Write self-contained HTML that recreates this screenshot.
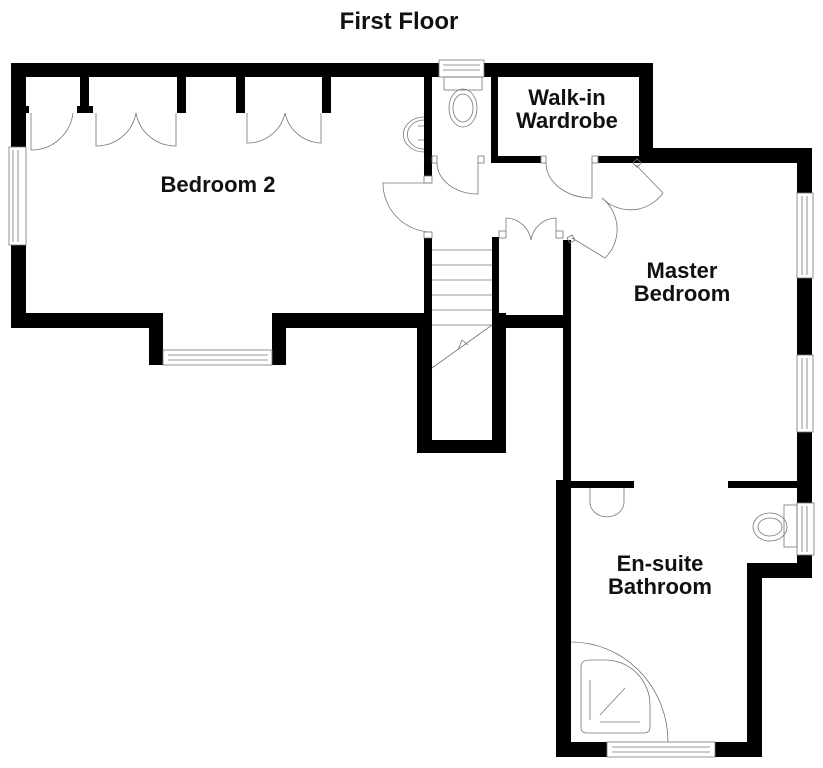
<!DOCTYPE html>
<html><head><meta charset="utf-8"><style>
html,body{margin:0;padding:0;background:#fff;width:823px;height:768px;overflow:hidden}
svg{display:block}
text{font-family:"Liberation Sans",Arial,sans-serif;font-weight:bold;fill:#111;text-anchor:middle}
</style></head><body>
<svg width="823" height="768" viewBox="0 0 823 768" xmlns="http://www.w3.org/2000/svg">
<text x="399" y="29" font-size="24">First Floor</text>
<g fill="#000">
<rect x="11" y="63" width="428" height="14"/>
<rect x="484" y="63" width="169" height="14"/>
<rect x="11" y="63" width="15" height="84"/>
<rect x="11" y="245" width="15" height="83"/>
<rect x="11" y="313" width="152" height="15"/>
<rect x="149" y="313" width="14" height="52"/>
<rect x="272" y="313" width="14" height="52"/>
<rect x="272" y="313" width="160" height="15"/>
<rect x="80" y="77" width="9" height="36"/><rect x="77" y="106" width="16" height="7"/>
<rect x="177" y="77" width="9" height="36"/>
<rect x="236" y="77" width="9" height="36"/>
<rect x="322" y="77" width="9" height="36"/>
<rect x="26" y="106" width="3" height="7"/>
<rect x="424" y="77" width="8" height="99"/>
<rect x="491" y="77" width="7" height="86"/>
<rect x="491" y="156" width="50" height="7"/>
<rect x="598" y="156" width="55" height="7"/>
<rect x="639" y="63" width="14" height="100"/>
<rect x="639" y="148" width="173" height="15"/>
<rect x="797" y="148" width="15" height="45"/>
<rect x="797" y="278" width="15" height="77"/>
<rect x="797" y="432" width="15" height="71"/>
<rect x="797" y="555" width="15" height="23"/>
<rect x="747" y="563" width="65" height="15"/>
<rect x="747" y="563" width="15" height="194"/>
<rect x="424" y="238" width="8" height="90"/>
<rect x="417" y="313" width="15" height="140"/>
<rect x="417" y="440" width="89" height="13"/>
<rect x="492" y="237" width="7" height="90"/>
<rect x="492" y="313" width="14" height="140"/>
<rect x="492" y="315" width="71" height="13"/>
<rect x="563" y="240" width="8" height="245"/>
<rect x="556" y="480" width="15" height="277"/>
<rect x="571" y="481" width="63" height="7"/>
<rect x="728" y="481" width="69" height="7"/>
<rect x="556" y="742" width="51" height="15"/>
<rect x="715" y="742" width="47" height="15"/>
</g>
<g fill="none" stroke="#777" stroke-width="0.8">
<rect x="9" y="147" width="17" height="98"/><line x1="13" y1="150" x2="13" y2="242"/><line x1="18" y1="150" x2="18" y2="242"/>
<rect x="163" y="350" width="109" height="15"/><line x1="168" y1="355" x2="268" y2="355"/><line x1="168" y1="360" x2="268" y2="360"/>
<rect x="439" y="60" width="45" height="17"/><line x1="443" y1="65" x2="480" y2="65"/><line x1="443" y1="70" x2="480" y2="70"/>
<rect x="797" y="193" width="16" height="85"/><line x1="802" y1="196" x2="802" y2="275"/><line x1="807" y1="196" x2="807" y2="275"/>
<rect x="797" y="355" width="16" height="77"/><line x1="802" y1="358" x2="802" y2="429"/><line x1="807" y1="358" x2="807" y2="429"/>
<rect x="797" y="503" width="17" height="52"/><line x1="802" y1="506" x2="802" y2="552"/><line x1="807" y1="506" x2="807" y2="552"/>
<rect x="607" y="742" width="108" height="15"/><line x1="612" y1="747" x2="710" y2="747"/><line x1="612" y1="752" x2="710" y2="752"/>
<path d="M31 113 V150 A42 42 0 0 0 73 113"/>
<path d="M96 113 V146 A40 40 0 0 0 136 113 A40 40 0 0 0 176 146 V113"/>
<path d="M247 113 V143 A38 38 0 0 0 285 113 A38 38 0 0 0 321 143 V113"/>
<path d="M432 183 H383 A49 49 0 0 0 432 232"/>
<rect x="424" y="176" width="8" height="7"/><rect x="424" y="232" width="8" height="6"/>
<rect x="432" y="156" width="5" height="7"/><rect x="478" y="156" width="6" height="7"/>
<path d="M437 163 A41 31 0 0 0 478 194 V163"/>
<rect x="541" y="156" width="5" height="7"/><rect x="592" y="156" width="6" height="7"/>
<path d="M546 163 A46 35 0 0 0 592 198 V163"/>
<path d="M636 165 L663 193 A40 40 0 0 1 602 198 A40 40 0 0 1 605 258 L572 238"/>
<rect x="634" y="160" width="6" height="6" transform="rotate(45 637 163)"/>
<rect x="568" y="236" width="6" height="6" transform="rotate(-30 571 239)"/>
<rect x="499" y="231" width="7" height="7"/><rect x="556" y="231" width="7" height="7"/>
<path d="M506 231 V218 A26 26 0 0 1 531 240 A26 26 0 0 1 556 218 V231"/>
<path d="M432 250 H492 M432 265 H492 M432 280 H492 M432 295 H492 M432 310 H492 M432 325 H492 M432 368 L492 325 M458 350 L462 340 L468 345"/>
<rect x="444" y="77" width="38" height="13"/>
<ellipse cx="463" cy="108" rx="14" ry="19"/><ellipse cx="463" cy="108" rx="10" ry="14"/>
<path d="M424 117 A20 17 0 0 0 424 152"/><path d="M424 120 A16 14 0 0 0 424 149"/><path d="M418 126 H424 M418 140 H424"/>
<path d="M590 488 V502 A16 14 0 0 0 624 502 V488"/>
<rect x="784" y="505" width="13" height="42"/>
<ellipse cx="770" cy="527" rx="17" ry="14"/><ellipse cx="770" cy="527" rx="12" ry="9"/>
<path d="M571 642 A97 100 0 0 1 668 742"/>
<path d="M581 667 Q581 660 590 660 H605 A45 45 0 0 1 650 705 V727 Q650 733 644 733 H587 Q581 733 581 727 Z"/>
<line x1="590" y1="680" x2="590" y2="720"/><line x1="600" y1="722" x2="640" y2="722"/>
<line x1="600" y1="715" x2="625" y2="688"/>
</g>
<text x="218" y="192" font-size="22">Bedroom 2</text>
<text x="567" y="105" font-size="22">Walk-in</text>
<text x="567" y="128" font-size="22">Wardrobe</text>
<text x="682" y="278" font-size="22">Master</text>
<text x="682" y="301" font-size="22">Bedroom</text>
<text x="660" y="571" font-size="22">En-suite</text>
<text x="660" y="594" font-size="22">Bathroom</text>
</svg>
</body></html>
